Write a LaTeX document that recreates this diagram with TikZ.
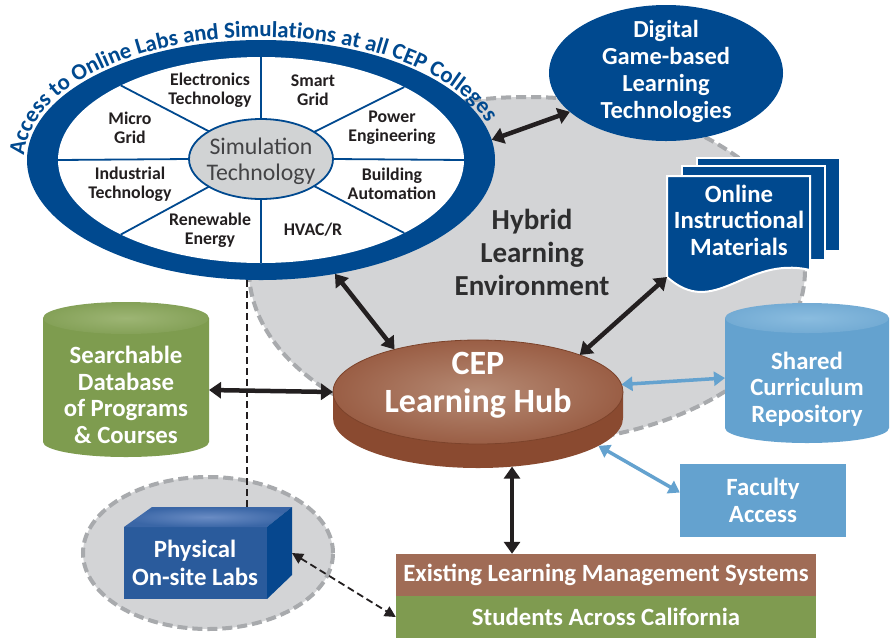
\documentclass[tikz,border=0pt]{standalone}
\usepackage{fontspec}
\setmainfont{Carlito}
\usetikzlibrary{shapes.geometric,arrows.meta,decorations.text,calc}
\definecolor{cepblue}{HTML}{00498F}
\definecolor{zonegray}{HTML}{D3D4D6}
\definecolor{dashgray}{HTML}{A8AAAD}
\definecolor{txtdark}{HTML}{231F20}
\definecolor{hybtxt}{HTML}{2E2E2F}
\definecolor{simtxt}{HTML}{434345}
\definecolor{simfill}{HTML}{D1D3D4}
\definecolor{hubtop}{HTML}{9A5E45}
\definecolor{hubtoplight}{HTML}{B68B75}
\definecolor{hubside}{HTML}{8A4A30}
\definecolor{dbgreen}{HTML}{7E9C4F}
\definecolor{dbgreenlight}{HTML}{9DB574}
\definecolor{skyblue}{HTML}{64A2CF}
\definecolor{skybluelight}{HTML}{8ABCDF}
\definecolor{lmsbrown}{HTML}{A06C56}
\definecolor{stugreen}{HTML}{7F9B50}
\definecolor{boxfront}{HTML}{2A5B9C}
\definecolor{boxtop}{HTML}{3A66A6}
\definecolor{boxtoplight}{HTML}{6A8CC4}
\definecolor{boxright}{HTML}{06478E}
\begin{document}
\begin{tikzpicture}[x=1pt,y=-1pt,
  whitetxt/.style={font=\fontsize{24.8}{26.5}\selectfont\bfseries, text=white, align=center, inner sep=0pt},
  sectortxt/.style={font=\fontsize{17.8}{19}\selectfont\bfseries, text=txtdark, align=center, inner sep=0pt},
  zone/.style={ellipse, fill=zonegray, draw=dashgray, line width=4pt, dash pattern=on 10pt off 5pt, inner sep=0pt, outer sep=0pt},
  spoke/.style={draw=cepblue, line width=1.8pt},
  blkarrow/.style={draw=txtdark, line width=4.5pt, {Triangle[length=12pt,width=16pt]}-{Triangle[length=12pt,width=16pt]}},
  bluearrow/.style={draw=skyblue, line width=3.5pt, {Triangle[length=11pt,width=14pt]}-{Triangle[length=11pt,width=14pt]}},
  dasharrow/.style={draw=txtdark, line width=1.8pt, dash pattern=on 7pt off 4pt, {Triangle[length=11pt,width=11pt]}-{Triangle[length=11pt,width=11pt]}},
  linkdash/.style={draw=txtdark, line width=1.8pt, dash pattern=on 7pt off 4pt},
  docpage/.style={fill=cepblue, draw=white, line width=2pt}
]
\useasboundingbox (0,0) rectangle (891,638);
\fill[white] (0,0) rectangle (891,638);

% zones
\node[zone, minimum width=556, minimum height=346] (hybridzone) at (527,270) {};
\node[zone, minimum width=250, minimum height=152] (labzone) at (208,553) {};

% wheel
\node[ellipse, fill=cepblue, minimum width=468, minimum height=240, inner sep=0pt, outer sep=0pt] (wheel) at (261,160) {};
\node[ellipse, fill=white, minimum width=406, minimum height=206, inner sep=0pt, outer sep=0pt] (wheelin) at (261,160) {};
\node[ellipse, minimum width=144, minimum height=80, inner sep=0pt, outer sep=0pt] (simb) at (261,159) {};
\foreach \a in {90,270,0,180,152,27,208,333}{
  \draw[spoke] (simb.\a) -- (wheelin.\a);
}
\node[ellipse, fill=simfill, draw=cepblue, line width=1.8pt, minimum width=144, minimum height=80, inner sep=0pt] (sim) at (261,159) {};
\node[font=\fontsize{23.8}{26}\selectfont, text=simtxt, align=center, inner sep=0pt] (simtext) at (261,161) {Simulation\\Technology};

\node[sectortxt] (s1) at (210,90) {Electronics\\Technology};
\node[sectortxt] (s2) at (313,90) {Smart\\Grid};
\node[sectortxt] (s3) at (130,128) {Micro\\Grid};
\node[sectortxt] (s4) at (392,128) {Power\\Engineering};
\node[sectortxt] (s5) at (130,184) {Industrial\\Technology};
\node[sectortxt] (s6) at (392,184) {Building\\Automation};
\node[sectortxt] (s7) at (210,230) {Renewable\\Energy};
\node[sectortxt] (s8) at (313,230) {HVAC/R};

% curved title
\path[decorate, decoration={text along path, text align=left,
  text={|\fontsize{22.8}{24}\selectfont\bfseries\color{cepblue}|Access to Online Labs and Simulations at all CEP Colleges}}]
  ($(261,160)+(182:237 and 123)$) arc[start angle=182, end angle=370, x radius=237, y radius=123];

% digital game-based
\node[ellipse, fill=cepblue, minimum width=234, minimum height=136, inner sep=0pt, outer sep=0pt] (digital) at (666,73) {};
\node[whitetxt, font=\fontsize{24.5}{27}\selectfont\bfseries] (digitaltext) at (666,71) {Digital\\Game-based\\Learning\\Technologies};

% online instructional materials
\draw[docpage] (697,158) rectangle (840,251);
\draw[docpage] (682,166) rectangle (825,260);
\draw[docpage] (667,176) -- (810,176) -- (810,270) .. controls (745,255) and (715,320) .. (667,277) -- cycle;
\node[minimum width=143, minimum height=101, inner sep=0pt, outer sep=0pt] (docs) at (738.5,226.5) {};
\node[whitetxt] (docstext) at (739,220) {Online\\Instructional\\Materials};

% hybrid label
\node[font=\fontsize{29}{33}\selectfont\bfseries, text=hybtxt, align=center, inner sep=0pt] (hybrid) at (532,252) {Hybrid\\Learning\\Environment};

% hub
\node[ellipse, minimum width=290, minimum height=100, inner sep=0pt, outer sep=0pt] (hubbase) at (478,418) {};
\fill[hubside] (333,392) -- (333,418) arc[start angle=180, end angle=0, x radius=145, y radius=50] -- (623,392) -- cycle;
\node[ellipse, shade, inner color=hubtoplight, outer color=hubtop, draw=hubside!90!black, line width=0.8pt, minimum width=290, minimum height=104, inner sep=0pt, outer sep=0pt] (hub) at (478,392) {};
\node[whitetxt, font=\fontsize{34}{38}\selectfont\bfseries] (hubtext) at (478,385) {CEP\\Learning Hub};

% searchable database cylinder
\fill[dbgreen] (43,318) -- (43,442) arc[start angle=180, end angle=0, x radius=83, y radius=15] -- (209,318) -- cycle;
\shade[inner color=dbgreenlight, outer color=dbgreen!95!white] (126,318) ellipse[x radius=83, y radius=16];
\node[minimum width=166, minimum height=155, inner sep=0pt, outer sep=0pt] (search) at (126,380) {};
\node[whitetxt] (searchtext) at (126,395) {Searchable\\Database\\of Programs\\\& Courses};

% shared curriculum repository cylinder
\fill[skyblue] (725,318) -- (725,428) arc[start angle=180, end angle=0, x radius=82, y radius=15] -- (889,318) -- cycle;
\shade[inner color=skybluelight, outer color=skyblue!90!white] (807,318) ellipse[x radius=82, y radius=15];
\node[minimum width=164, minimum height=140, inner sep=0pt, outer sep=0pt] (shared) at (807,373) {};
\node[whitetxt] (sharedtext) at (807,389) {Shared\\Curriculum\\Repository};

% faculty access
\node[whitetxt, fill=skyblue, minimum width=166, minimum height=73] (faculty) at (763,500.5) {Faculty\\Access};

% bottom bars
\node[whitetxt, fill=lmsbrown, minimum width=420, minimum height=42] (lms) at (606,575) {Existing Learning Management Systems};
\node[whitetxt, fill=stugreen, minimum width=420, minimum height=42] (students) at (606,617) {Students Across California};

% physical labs box
\node[fill=boxfront, minimum width=143, minimum height=72, inner sep=0pt, outer sep=0pt] (labs) at (195.5,563) {};
\shade[inner color=boxtoplight, outer color=boxtop] (labs.north west) -- (152,507) -- (292,507) -- (labs.north east) -- cycle;
\fill[boxright] (labs.north east) -- (292,507) -- (292,575) -- (labs.south east) -- cycle;
\node[whitetxt, font=\fontsize{24.8}{28}\selectfont\bfseries] (labstext) at (195,563) {Physical\\On-site Labs};
\coordinate (labstop) at (247,507);
\coordinate (labsside) at (292,553);

% connectors
\draw[linkdash] (labstop |- wheel.south) -- (labstop);
\draw[blkarrow] (wheel.5) -- (digital.202);
\draw[blkarrow] (wheel.-57) -- (hub.153);
\draw[blkarrow] (docs.south west) -- (hub.20);
\draw[blkarrow] ([yshift=-10pt]search.east) -- (hub.west);
\draw[blkarrow] (hubbase.-55) -- (hubbase.-55 |- lms.north);
\draw[bluearrow] (hub.3) -- ([yshift=-5pt]shared.west);
\draw[bluearrow] (hubbase.-13) -- ([yshift=8pt]faculty.west);
\draw[dasharrow] (labsside) -- (students.west);
\end{tikzpicture}
\end{document}
